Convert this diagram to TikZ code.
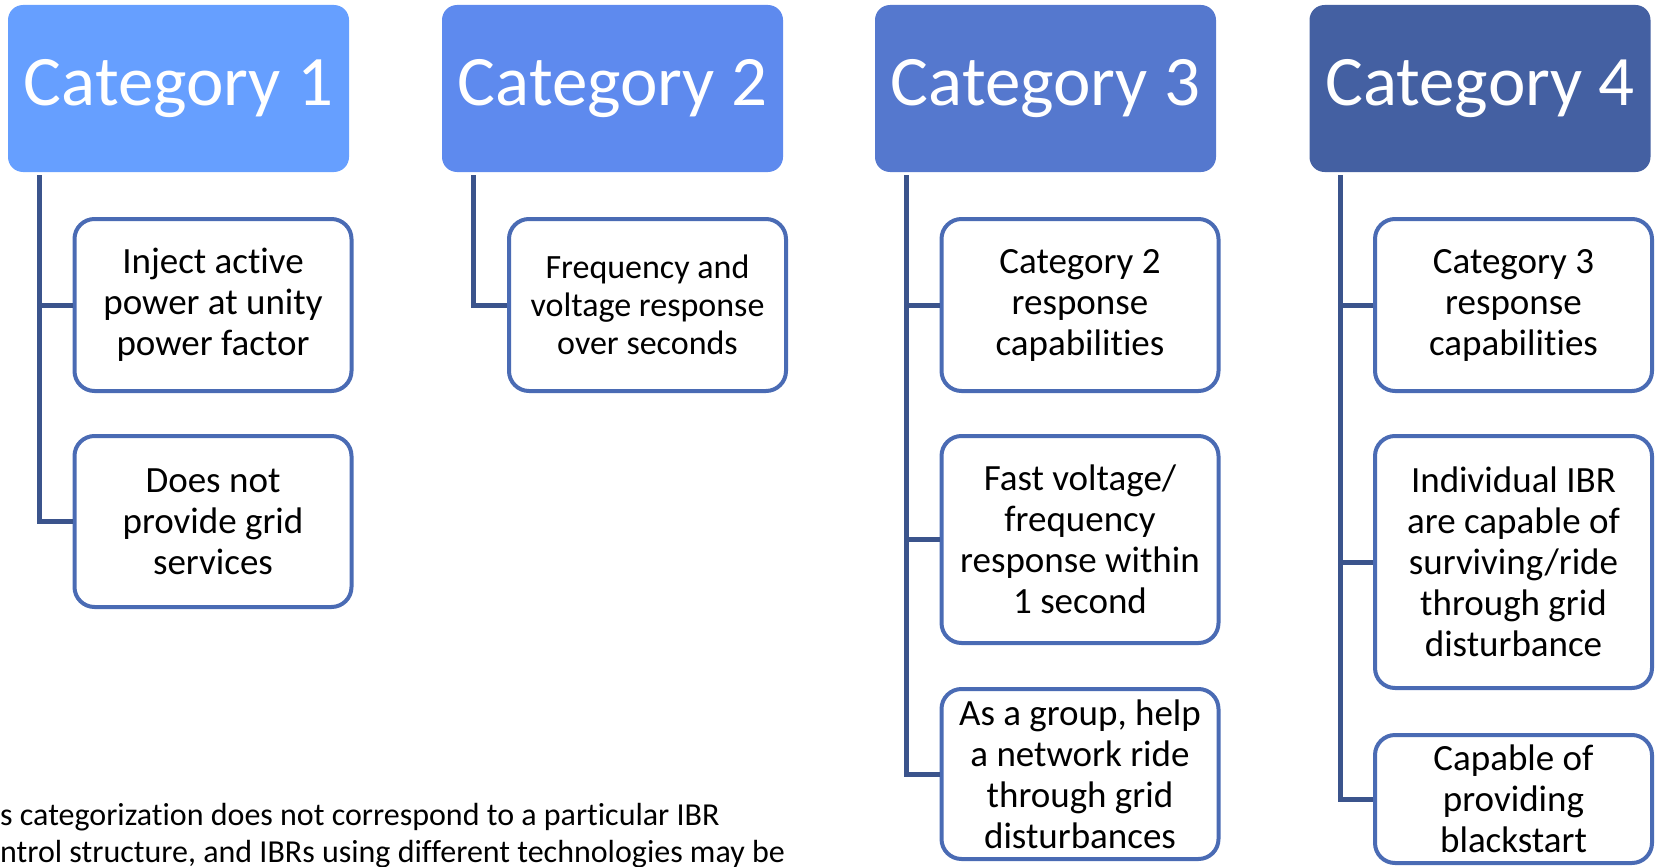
\documentclass[tikz,border=0pt]{standalone}
\usepackage{fontspec}
\setmainfont{Carlito}[Ligatures=NoCommon]
\usetikzlibrary{positioning}

\definecolor{headA}{RGB}{102,159,255}
\definecolor{headB}{RGB}{94,138,238}
\definecolor{headC}{RGB}{85,120,206}
\definecolor{headD}{RGB}{68,96,162}
\definecolor{linkcol}{RGB}{59,84,140}
\definecolor{boxcol}{RGB}{74,107,180}

\begin{document}
\begin{tikzpicture}[x=1pt, y=-1pt,
        head/.style={rectangle, rounded corners=15pt, minimum width=341pt, minimum height=167pt,
            text=white, font=\fontsize{71}{85}\selectfont, inner sep=0pt},
        item/.style={rectangle, rounded corners=20pt, draw=boxcol, line width=4pt, fill=white,
            minimum width=277pt, align=center, inner sep=0pt, font=\fontsize{37}{41}\selectfont},
        link/.style={draw=linkcol, line width=5pt},
        elbow/.style={to path={|- (\tikztotarget)}},
        note/.style={anchor=base west, inner sep=0pt, font=\fontsize{32}{38}\selectfont}]
    \useasboundingbox (0,0) rectangle (1655,867);

    \node (cat1) [head, fill=headA] at (178.5,88.5) {Category 1};
    \node (cat2) [head, fill=headB] at (612.5,88.5) {Category 2};
    \node (cat3) [head, fill=headC] at (1045.5,88.5) {Category 3};
    \node (cat4) [head, fill=headD] at (1480,88.5) {Category 4};

    \coordinate (t1) at ([xshift=32pt, yshift=-3pt]cat1.south west);
    \coordinate (t2) at ([xshift=32pt, yshift=-3pt]cat2.south west);
    \coordinate (t3) at ([xshift=32pt, yshift=-3pt]cat3.south west);
    \coordinate (t4) at ([xshift=31pt, yshift=-3pt]cat4.south west);

    \node (c1a) [item, minimum height=172pt] at (213,305) {Inject active\\power at unity\\power factor};
    \node (c1b) [item, minimum height=171pt] at (213,521.5) {Does not\\provide grid\\services};

    \node (c2a) [item, minimum height=172pt, font=\fontsize{34}{38}\selectfont] at (647.5,305)
        {Frequency and\\voltage response\\over seconds};

    \node (c3a) [item, minimum height=172pt] at (1080,305) {Category 2\\response\\capabilities};
    \node (c3b) [item, minimum height=207pt] at (1080,539.5) {Fast voltage/\\frequency\\response within\\1 second};
    \node (c3c) [item, minimum height=170pt] at (1080,774) {As a group, help\\a network ride\\through grid\\disturbances};

    \node (c4a) [item, minimum height=172pt] at (1513.5,305) {Category 3\\response\\capabilities};
    \node (c4b) [item, minimum height=252pt] at (1513.5,562) {Individual IBR\\are capable of\\surviving/ride\\through grid\\disturbance};
    \node (c4c) [item, minimum height=128pt] at (1513.5,799) {Capable of\\providing\\blackstart};

    \path [link] (t1) edge [elbow] (c1a.west)
                 (t1) edge [elbow] (c1b.west)
                 (t2) edge [elbow] (c2a.west)
                 (t3) edge [elbow] (c3a.west)
                 (t3) edge [elbow] (c3b.west)
                 (t3) edge [elbow] (c3c.west)
                 (t4) edge [elbow] (c4a.west)
                 (t4) edge [elbow] (c4b.west)
                 (t4) edge [elbow] (c4c.west);

    \node (note1) [note] at (0,825) {s categorization does not correspond to a particular IBR};
    \node (note2) [note] at (0,862) {ntrol structure, and IBRs using different technologies may be};
\end{tikzpicture}
\end{document}
